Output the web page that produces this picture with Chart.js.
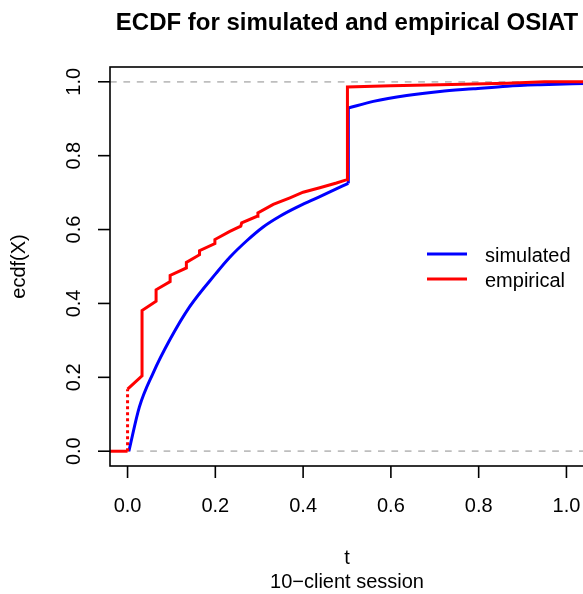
<!DOCTYPE html>
<html>
<head>
<meta charset="utf-8">
<title>ECDF OSIAT</title>
<script src="https://cdn.jsdelivr.net/npm/chart.js@4.4.1/dist/chart.umd.min.js"></script>
<style>
  html, body { margin: 0; padding: 0; background: #fff; overflow: hidden; }
  #chartContainer { position: relative; width: 586px; height: 594px; }
</style>
</head>
<body>
<div id="chartContainer"><canvas id="ecdfChart"></canvas></div>
<script>
// --- DATEN ---
const simT = [0.003, 0.027, 0.058, 0.096, 0.142, 0.202, 0.233, 0.271, 0.309, 0.347, 0.385, 0.423, 0.461, 0.503,
              0.503, 0.56, 0.636, 0.712, 0.788, 0.865, 0.941, 1.05];
const simY = [0, 0.12, 0.211, 0.301, 0.392, 0.482, 0.525, 0.569, 0.607, 0.636, 0.66, 0.681, 0.702, 0.725,
              0.929, 0.947, 0.963, 0.974, 0.981, 0.988, 0.992, 0.996];

const empT = [-0.05, 0, 0, 0.033, 0.033, 0.065, 0.065, 0.097, 0.097, 0.134, 0.134, 0.164, 0.164, 0.199, 0.199,
              0.233, 0.258, 0.26, 0.295, 0.297, 0.332, 0.37, 0.40, 0.438, 0.476, 0.5, 0.501,
              0.6, 0.712, 0.865, 0.95, 1.05];
const empY = [0, 0, 0.168, 0.204, 0.381, 0.406, 0.437, 0.459, 0.476, 0.496, 0.511, 0.532, 0.543, 0.562, 0.573,
              0.595, 0.609, 0.618, 0.636, 0.645, 0.668, 0.686, 0.701, 0.713, 0.726, 0.735, 0.986,
              0.989, 0.992, 0.996, 1.0, 1.0];

const xTicks = [0, 0.2, 0.4, 0.6, 0.8, 1.0];
const xTickLabels = ['0.0', '0.2', '0.4', '0.6', '0.8', '1.0'];
const yTicks = [0, 0.2, 0.4, 0.6, 0.8, 1.0];
const yTickLabels = ['0.0', '0.2', '0.4', '0.6', '0.8', '1.0'];
const refLines = [0, 1];

const seriesNames = ['simulated', 'empirical'];
const seriesColors = ['#0000ff', '#ff0000'];
// --- ENDE DATEN ---

const FONT = '"Liberation Sans", Arial, Helvetica, sans-serif';

function toPoints(xs, ys) {
    return xs.map((x, i) => ({ x: x, y: ys[i] }));
}

// Simulierte Kurve am Sprung (gleiches t) aufteilen: glatte Teile + senkrechter Sprung
function splitAtJump(points) {
    const j = points.findIndex((p, i) => i > 0 && p.x === points[i - 1].x);
    if (j < 0) return [points];
    return [points.slice(0, j), points.slice(j - 1, j + 1), points.slice(j)];
}

// Achsen, Rahmen, Titel und Legende im R-Stil zeichnen
const rStylePlugin = {
    id: 'rStyle',
    beforeDatasetsDraw(chart) {
        const { ctx, chartArea: a, scales: { y } } = chart;
        ctx.save();
        ctx.strokeStyle = '#bebebe';
        ctx.lineWidth = 1.7;
        ctx.setLineDash([6.7, 6.7]);
        refLines.forEach(v => {
            const py = y.getPixelForValue(v);
            ctx.beginPath();
            ctx.moveTo(a.left, py);
            ctx.lineTo(a.right, py);
            ctx.stroke();
        });
        ctx.restore();
    },
    afterDraw(chart) {
        const { ctx, chartArea: a, scales: { x, y } } = chart;
        ctx.save();
        ctx.strokeStyle = '#000';
        ctx.lineWidth = 1.6;
        ctx.strokeRect(a.left, a.top, a.right - a.left, a.bottom - a.top);

        ctx.fillStyle = '#000';
        ctx.font = '20px ' + FONT;

        // x-Achse
        ctx.textAlign = 'center';
        ctx.textBaseline = 'alphabetic';
        xTicks.forEach((v, i) => {
            const px = x.getPixelForValue(v);
            ctx.beginPath();
            ctx.moveTo(px, a.bottom);
            ctx.lineTo(px, a.bottom + 12);
            ctx.stroke();
            ctx.fillText(xTickLabels[i], px, 512);
        });

        // y-Achse (Beschriftung gedreht)
        yTicks.forEach((v, i) => {
            const py = y.getPixelForValue(v);
            ctx.beginPath();
            ctx.moveTo(a.left, py);
            ctx.lineTo(a.left - 12, py);
            ctx.stroke();
            ctx.save();
            ctx.translate(80, py);
            ctx.rotate(-Math.PI / 2);
            ctx.fillText(yTickLabels[i], 0, 0);
            ctx.restore();
        });

        const midX = (a.left + a.right) / 2;
        const midY = (a.top + a.bottom) / 2;
        ctx.fillText('t', midX, 564);
        ctx.fillText('10\u2212client session', midX, 588);

        ctx.save();
        ctx.translate(25, midY);
        ctx.rotate(-Math.PI / 2);
        ctx.fillText('ecdf(X)', 0, 0);
        ctx.restore();

        // Titel
        ctx.font = 'bold 24px ' + FONT;
        ctx.fillText('ECDF for simulated and empirical OSIAT', midX, 30);

        // Legende
        ctx.font = '20px ' + FONT;
        ctx.textAlign = 'left';
        ctx.lineWidth = 3;
        seriesNames.forEach((name, i) => {
            const ly = 254 + i * 25;
            ctx.strokeStyle = seriesColors[i];
            ctx.beginPath();
            ctx.moveTo(427, ly);
            ctx.lineTo(467, ly);
            ctx.stroke();
            ctx.fillText(name, 485, ly + 8);
        });
        ctx.restore();
    }
};

const simParts = splitAtJump(toPoints(simT, simY));
const simDatasets = simParts.map(part => ({
    label: seriesNames[0],
    data: part,
    borderColor: seriesColors[0],
    borderWidth: 3,
    pointRadius: 0,
    cubicInterpolationMode: part.length > 2 ? 'monotone' : 'default',
    tension: 0,
    fill: false,
    order: 1
}));

const ctx = document.getElementById('ecdfChart').getContext('2d');
const chart = new Chart(ctx, {
    type: 'line',
    data: {
        datasets: [
            ...simDatasets,
            {
                label: seriesNames[1],
                data: toPoints(empT, empY),
                borderColor: seriesColors[1],
                borderWidth: 3,
                pointRadius: 0,
                tension: 0,
                fill: false,
                order: 0,
                segment: {
                    // viele Werte bei t = 0 -> gestrichelt wie im Original
                    borderDash: c => (c.p0.parsed.x === 0 && c.p1.parsed.x === 0) ? [3, 3] : undefined
                }
            }
        ]
    },
    options: {
        responsive: true,
        maintainAspectRatio: false,
        animation: false,
        layout: { padding: { left: 110, right: 2, top: 67, bottom: 128 } },
        scales: {
            x: { type: 'linear', min: -0.04, max: 1.04, display: false },
            y: { type: 'linear', min: -0.04, max: 1.04, display: false }
        },
        plugins: {
            legend: { display: false },
            tooltip: { enabled: false }
        }
    },
    plugins: [rStylePlugin]
});
</script>
</body>
</html>
